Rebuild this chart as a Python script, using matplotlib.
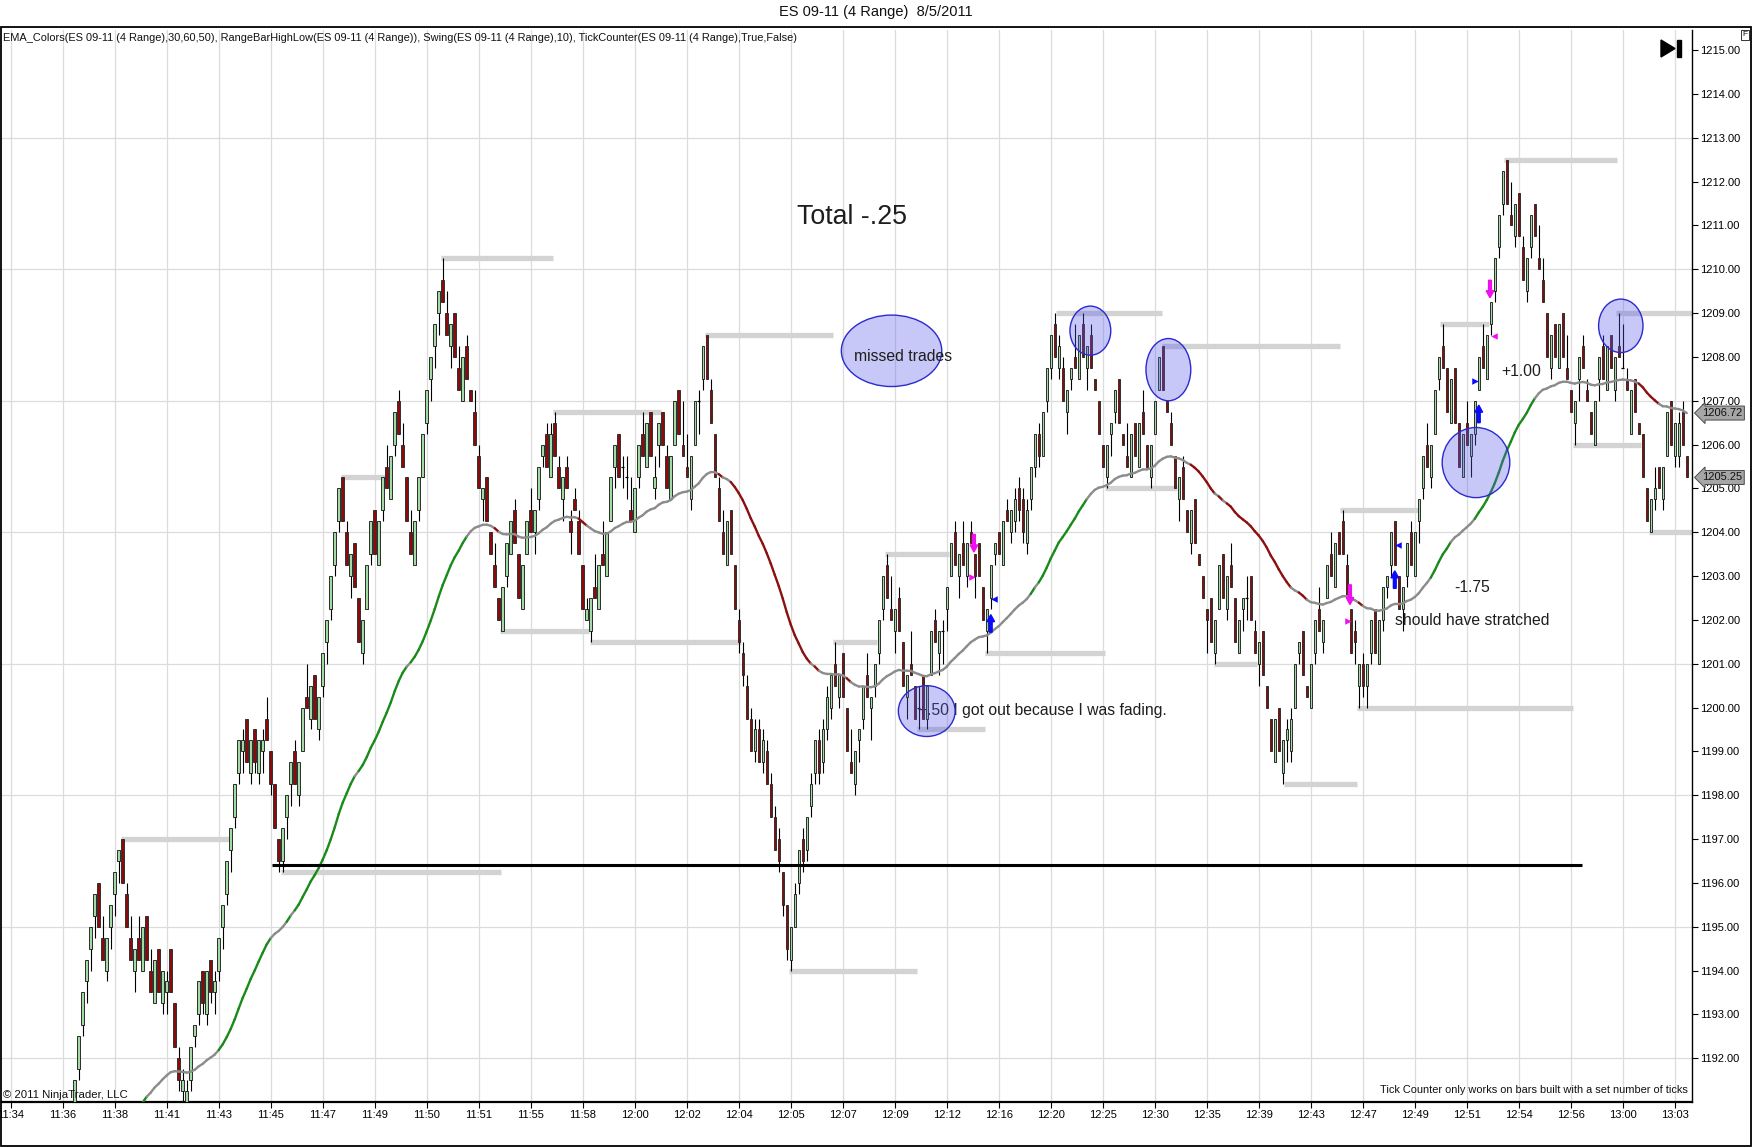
import numpy as np
import matplotlib
matplotlib.use('Agg')
import matplotlib.pyplot as plt
from matplotlib.patches import Ellipse, Rectangle, Polygon, FancyArrow
from matplotlib.collections import LineCollection
import matplotlib.transforms as mtransforms

plt.rcParams['font.family'] = ['Liberation Sans', 'DejaVu Sans']

# ---------------- data (4-tick range bars, ES 09-11, 8/5/2011) ----------------
first_bar = 16
opens = [
    1191.0, 1191.75, 1192.75, 1193.75, 1194.5, 1195.25, 1196.0, 1194.75, 1194.0, 1195.0,
    1195.75, 1196.5, 1197.0, 1195.75, 1194.75, 1194.0, 1194.75, 1194.0, 1195.25, 1194.0,
    1193.25, 1194.5, 1193.25, 1193.5, 1194.5, 1193.25, 1192.0, 1191.25, 1191.0, 1191.5,
    1192.5, 1193.0, 1194.0, 1193.0, 1194.25, 1193.5, 1194.0, 1195.0, 1195.75, 1196.75,
    1197.5, 1198.5, 1199.0, 1199.75, 1198.5, 1199.5, 1198.5, 1199.0, 1199.75, 1199.0,
    1198.25, 1197.0, 1196.5, 1197.5, 1198.25, 1199.0, 1198.0, 1199.0, 1200.25, 1199.75,
    1200.75, 1199.5, 1200.5, 1201.5, 1202.25, 1203.25, 1204.25, 1205.25, 1204.0, 1203.0,
    1203.75, 1202.5, 1201.25, 1202.25, 1203.5, 1204.5, 1203.25, 1204.5, 1205.5, 1204.75,
    1206.0, 1207.0, 1206.0, 1205.25, 1204.0, 1203.25, 1204.5, 1205.25, 1206.5, 1207.5,
    1208.25, 1209.0, 1209.75, 1209.0, 1208.25, 1209.0, 1207.75, 1207.0, 1208.25, 1207.25,
    1206.75, 1205.75, 1204.75, 1205.25, 1204.0, 1203.25, 1202.5, 1201.75, 1203.0, 1203.5,
    1204.5, 1203.5, 1202.25, 1203.5, 1204.5, 1204.0, 1204.75, 1205.75, 1206.25, 1205.25,
    1206.5, 1205.5, 1204.75, 1205.5, 1204.25, 1204.75, 1204.25, 1203.25, 1202.0, 1201.75,
    1202.75, 1202.25, 1203.5, 1203.0, 1204.25, 1205.5, 1206.25, 1205.5, 1205.25, 1204.5,
    1204.0, 1205.25, 1206.25, 1205.5, 1206.75, 1205.0, 1206.0, 1206.75, 1205.75, 1204.75,
    1206.0, 1207.25, 1206.0, 1205.5, 1204.75, 1206.0, 1207.0, 1207.5, 1208.5, 1207.25,
    1206.25, 1205.0, 1204.0, 1203.25, 1204.5, 1203.25, 1202.0, 1201.25, 1200.5, 1199.75,
    1199.0, 1199.5, 1198.75, 1199.0, 1198.25, 1197.5, 1197.0, 1196.25, 1195.5, 1194.25,
    1195.0, 1196.0, 1197.0, 1196.75, 1197.75, 1198.5, 1199.25, 1198.75, 1199.5, 1200.0,
    1201.0, 1200.25, 1201.25, 1200.0, 1198.75, 1198.25, 1199.25, 1199.75, 1200.75, 1200.0,
    1200.5, 1201.25, 1202.25, 1203.25, 1202.25, 1201.75, 1202.5, 1201.5, 1200.25, 1201.0,
    1200.5, 1200.0, 1200.75, 1199.75, 1200.75, 1202.0, 1201.25, 1201.75, 1202.25, 1203.0,
    1204.0, 1203.0, 1203.75, 1203.0, 1204.0, 1203.5, 1203.75, 1202.75, 1201.75, 1202.5,
    1203.5, 1204.0, 1203.25, 1204.5, 1204.0, 1204.25, 1205.0, 1204.75, 1203.75, 1204.75,
    1205.5, 1206.25, 1205.75, 1207.0, 1207.75, 1208.75, 1207.75, 1207.75, 1206.75, 1207.5,
    1208.0, 1207.5, 1208.75, 1207.75, 1208.5, 1207.5, 1207.0, 1206.0, 1205.25, 1206.25,
    1206.75, 1207.5, 1206.25, 1205.75, 1205.25, 1206.5, 1205.5, 1206.75, 1206.0, 1205.25,
    1206.25, 1207.25, 1208.25, 1207.0, 1206.5, 1205.75, 1204.75, 1205.5, 1204.5, 1203.75,
    1204.75, 1203.5, 1203.0, 1202.25, 1202.5, 1201.25, 1202.25, 1203.5, 1202.25, 1203.25,
    1202.5, 1201.25, 1202.25, 1202.5, 1203.0, 1201.75, 1201.0, 1201.75, 1200.5, 1199.75,
    1198.75, 1200.0, 1198.5, 1199.25, 1199.0, 1200.0, 1201.25, 1201.75, 1200.5, 1200.0,
    1201.25, 1202.25, 1201.5, 1202.5, 1203.5, 1202.75, 1204.0, 1204.25, 1203.25, 1202.25,
    1201.75, 1200.5, 1201.0, 1200.5, 1201.25, 1202.25, 1201.0, 1202.0, 1202.75, 1203.25,
    1204.25, 1203.0, 1202.25, 1203.0, 1204.0, 1203.0, 1204.25, 1205.0, 1206.0, 1205.25,
    1206.25, 1207.5, 1208.25, 1207.75, 1206.5, 1207.75, 1206.5, 1205.25, 1206.5, 1205.75,
    1206.25, 1207.25, 1208.25, 1207.5, 1208.75, 1209.5, 1210.5, 1211.5, 1212.5, 1211.25,
    1210.75, 1211.75, 1210.5, 1209.5, 1210.5, 1211.5, 1210.25, 1209.75, 1209.0, 1207.75,
    1208.75, 1207.75, 1209.0, 1207.75, 1207.25, 1206.5, 1207.5, 1208.25, 1207.25, 1206.75,
    1206.0, 1207.5, 1208.25, 1207.25, 1208.5, 1207.25, 1208.25, 1207.75, 1207.5, 1206.25,
    1207.5, 1206.5, 1206.25, 1205.0, 1204.0, 1204.75, 1205.5, 1204.75, 1205.75, 1207.0,
    1205.75, 1205.75, 1206.75, 1205.75,
]
highs = [
    1191.5, 1192.5, 1193.5, 1194.25, 1195.0, 1195.75, 1196.0, 1195.25, 1194.75, 1195.5,
    1196.25, 1196.75, 1197.0, 1196.0, 1195.25, 1194.5, 1195.25, 1195.0, 1195.25, 1194.5,
    1194.25, 1194.5, 1194.0, 1194.0, 1194.5, 1193.25, 1192.25, 1191.75, 1191.5, 1192.25,
    1192.75, 1193.75, 1194.0, 1194.0, 1194.25, 1194.0, 1194.75, 1195.5, 1196.5, 1197.25,
    1198.25, 1199.25, 1199.5, 1199.75, 1199.25, 1199.5, 1199.25, 1199.5, 1200.25, 1199.0,
    1198.25, 1197.0, 1197.25, 1198.0, 1198.75, 1199.25, 1198.75, 1200.0, 1201.0, 1200.5,
    1200.75, 1200.25, 1201.25, 1202.0, 1203.0, 1204.0, 1205.0, 1205.25, 1204.25, 1203.5,
    1203.75, 1202.5, 1202.0, 1203.25, 1204.25, 1204.5, 1204.25, 1205.25, 1206.0, 1205.75,
    1206.75, 1207.25, 1206.5, 1205.25, 1204.5, 1204.25, 1205.25, 1206.25, 1207.25, 1208.0,
    1208.75, 1209.5, 1210.25, 1209.5, 1208.75, 1209.0, 1208.25, 1208.0, 1208.5, 1207.25,
    1207.25, 1206.0, 1205.0, 1205.25, 1204.0, 1203.75, 1202.5, 1202.75, 1203.75, 1204.25,
    1204.75, 1203.5, 1203.25, 1204.25, 1205.0, 1204.5, 1205.5, 1206.0, 1206.5, 1206.5,
    1206.75, 1205.75, 1205.25, 1205.75, 1204.5, 1205.0, 1204.5, 1203.25, 1202.5, 1202.5,
    1203.5, 1203.25, 1204.25, 1204.0, 1205.25, 1206.0, 1206.25, 1205.75, 1205.75, 1205.25,
    1205.0, 1206.0, 1206.75, 1206.5, 1206.75, 1205.75, 1206.5, 1206.75, 1206.0, 1205.75,
    1207.0, 1207.25, 1207.0, 1206.25, 1205.75, 1207.0, 1207.25, 1208.25, 1208.5, 1207.5,
    1206.25, 1205.25, 1204.5, 1204.25, 1204.5, 1203.25, 1202.25, 1201.5, 1200.75, 1200.0,
    1199.75, 1199.75, 1199.5, 1199.25, 1198.5, 1197.75, 1197.25, 1196.25, 1195.5, 1195.0,
    1196.0, 1196.75, 1197.25, 1197.5, 1198.5, 1199.25, 1199.5, 1199.75, 1200.5, 1200.75,
    1201.5, 1200.75, 1201.25, 1200.0, 1199.5, 1199.0, 1199.5, 1200.5, 1201.25, 1200.25,
    1201.0, 1202.0, 1203.0, 1203.5, 1203.0, 1202.25, 1202.75, 1201.5, 1200.75, 1201.75,
    1200.5, 1200.5, 1200.75, 1200.5, 1201.75, 1202.25, 1201.75, 1202.0, 1202.75, 1203.75,
    1204.25, 1203.5, 1204.25, 1203.75, 1204.25, 1203.5, 1203.75, 1202.75, 1202.25, 1203.25,
    1203.75, 1204.0, 1204.25, 1204.75, 1204.5, 1205.0, 1205.25, 1205.0, 1204.75, 1205.5,
    1206.25, 1206.5, 1206.75, 1207.75, 1208.5, 1209.0, 1208.5, 1208.0, 1207.25, 1207.75,
    1208.75, 1208.5, 1209.0, 1208.25, 1208.75, 1207.5, 1207.0, 1206.0, 1206.0, 1206.5,
    1207.25, 1207.5, 1206.25, 1206.5, 1206.25, 1206.5, 1206.5, 1207.25, 1206.0, 1206.0,
    1207.0, 1208.0, 1208.25, 1207.0, 1206.75, 1205.75, 1205.25, 1205.75, 1204.5, 1204.5,
    1204.75, 1203.5, 1203.0, 1202.25, 1202.5, 1202.0, 1203.25, 1203.5, 1203.0, 1203.75,
    1202.5, 1202.0, 1202.5, 1203.0, 1203.0, 1202.0, 1201.5, 1201.75, 1200.5, 1199.75,
    1199.75, 1200.0, 1199.25, 1199.75, 1200.0, 1201.0, 1201.5, 1201.75, 1200.5, 1201.0,
    1202.0, 1202.75, 1202.0, 1203.25, 1204.0, 1203.75, 1204.0, 1204.5, 1203.5, 1202.25,
    1202.0, 1201.0, 1201.25, 1201.0, 1202.0, 1202.25, 1202.0, 1202.75, 1203.0, 1204.0,
    1204.25, 1203.0, 1202.75, 1203.75, 1204.25, 1204.0, 1204.75, 1205.75, 1206.5, 1206.0,
    1207.25, 1208.0, 1208.75, 1207.75, 1207.5, 1207.75, 1206.5, 1206.25, 1207.0, 1206.25,
    1207.0, 1208.0, 1208.75, 1208.5, 1209.25, 1210.25, 1211.25, 1212.25, 1212.5, 1212.0,
    1211.5, 1211.75, 1210.75, 1210.25, 1211.25, 1211.5, 1211.0, 1210.25, 1209.0, 1208.5,
    1208.75, 1208.75, 1209.0, 1208.5, 1207.25, 1207.0, 1208.0, 1208.5, 1207.5, 1206.75,
    1207.0, 1208.0, 1208.5, 1208.25, 1208.5, 1208.0, 1209.0, 1208.75, 1207.75, 1207.25,
    1207.5, 1206.5, 1206.25, 1205.0, 1204.75, 1205.5, 1205.5, 1205.5, 1206.75, 1207.0,
    1206.5, 1206.75, 1207.0, 1205.75,
]
lows = [
    1190.5, 1191.5, 1192.5, 1193.25, 1194.0, 1194.75, 1195.0, 1194.25, 1193.75, 1194.5,
    1195.25, 1196.0, 1196.0, 1195.0, 1194.25, 1193.5, 1194.25, 1194.0, 1194.25, 1193.5,
    1193.25, 1193.5, 1193.0, 1193.0, 1193.5, 1192.25, 1191.25, 1190.75, 1190.5, 1191.25,
    1192.25, 1192.75, 1193.0, 1192.75, 1193.25, 1193.0, 1193.75, 1194.5, 1195.5, 1196.25,
    1197.25, 1198.25, 1198.5, 1198.75, 1198.25, 1198.5, 1198.25, 1198.5, 1199.25, 1198.0,
    1197.25, 1196.25, 1196.25, 1197.0, 1197.75, 1198.25, 1197.75, 1199.0, 1200.0, 1199.5,
    1199.75, 1199.25, 1200.25, 1201.0, 1202.0, 1203.0, 1204.0, 1204.25, 1203.25, 1202.5,
    1202.75, 1201.5, 1201.0, 1202.25, 1203.25, 1203.5, 1203.25, 1204.25, 1205.0, 1204.75,
    1205.75, 1206.25, 1205.5, 1204.25, 1203.5, 1203.25, 1204.25, 1205.25, 1206.25, 1207.0,
    1207.75, 1208.5, 1209.25, 1208.5, 1207.75, 1208.0, 1207.25, 1207.0, 1207.5, 1207.0,
    1206.0, 1205.0, 1204.25, 1204.25, 1203.5, 1202.75, 1202.0, 1201.75, 1202.75, 1203.5,
    1203.75, 1202.5, 1202.25, 1203.5, 1204.0, 1203.5, 1204.5, 1205.5, 1205.5, 1205.25,
    1205.75, 1205.0, 1204.25, 1205.0, 1203.5, 1204.5, 1203.5, 1202.25, 1202.0, 1201.5,
    1202.5, 1202.25, 1203.25, 1203.0, 1204.25, 1205.0, 1205.25, 1205.0, 1204.75, 1204.25,
    1204.0, 1205.0, 1205.75, 1205.5, 1205.75, 1204.75, 1205.5, 1206.0, 1205.0, 1204.75,
    1206.0, 1206.25, 1205.75, 1205.25, 1204.5, 1206.0, 1206.25, 1207.25, 1207.5, 1206.5,
    1205.25, 1204.25, 1203.5, 1203.25, 1203.5, 1202.25, 1201.25, 1200.5, 1199.75, 1199.0,
    1198.75, 1198.75, 1198.5, 1198.25, 1197.5, 1196.75, 1196.25, 1195.25, 1194.25, 1194.0,
    1195.0, 1195.75, 1196.25, 1196.5, 1197.5, 1198.25, 1198.25, 1198.5, 1199.25, 1199.75,
    1200.5, 1200.0, 1200.25, 1199.0, 1198.5, 1198.0, 1198.75, 1199.5, 1200.25, 1199.25,
    1200.25, 1201.0, 1202.0, 1202.5, 1202.0, 1201.25, 1201.75, 1200.5, 1199.75, 1200.75,
    1199.75, 1199.5, 1199.75, 1199.5, 1200.75, 1201.5, 1200.75, 1201.0, 1201.75, 1203.0,
    1203.25, 1202.5, 1203.25, 1202.75, 1203.75, 1202.5, 1203.0, 1202.0, 1201.25, 1202.25,
    1203.25, 1203.5, 1203.25, 1204.25, 1203.75, 1204.0, 1204.25, 1203.75, 1203.5, 1204.5,
    1205.25, 1205.5, 1205.75, 1206.75, 1207.5, 1208.0, 1207.5, 1207.0, 1206.25, 1207.25,
    1207.75, 1207.5, 1208.0, 1207.25, 1207.75, 1207.25, 1206.25, 1205.5, 1205.0, 1205.75,
    1206.5, 1206.5, 1206.0, 1205.5, 1205.25, 1205.75, 1205.5, 1206.25, 1205.5, 1205.0,
    1206.25, 1207.25, 1207.25, 1206.75, 1206.0, 1205.0, 1204.25, 1204.75, 1204.0, 1203.5,
    1203.75, 1203.25, 1202.5, 1201.25, 1201.5, 1201.0, 1202.25, 1202.5, 1202.0, 1202.75,
    1201.5, 1201.25, 1201.75, 1202.0, 1202.0, 1201.25, 1200.5, 1200.75, 1200.0, 1199.0,
    1198.75, 1199.0, 1198.25, 1198.75, 1198.75, 1200.0, 1201.0, 1200.75, 1200.25, 1200.0,
    1201.0, 1201.75, 1201.25, 1202.5, 1203.0, 1202.75, 1203.5, 1203.5, 1202.5, 1201.25,
    1201.0, 1200.0, 1200.25, 1200.0, 1201.0, 1201.25, 1201.0, 1201.75, 1202.5, 1203.0,
    1203.25, 1202.25, 1201.75, 1202.75, 1203.25, 1203.0, 1203.75, 1204.75, 1205.5, 1205.0,
    1206.25, 1207.25, 1207.75, 1206.75, 1206.5, 1206.5, 1205.5, 1205.25, 1206.0, 1205.25,
    1206.0, 1207.25, 1207.75, 1207.5, 1208.5, 1209.25, 1210.25, 1211.25, 1211.5, 1211.0,
    1210.5, 1210.75, 1209.75, 1209.25, 1210.25, 1210.75, 1210.0, 1209.25, 1208.0, 1207.5,
    1208.0, 1207.75, 1208.0, 1207.5, 1206.75, 1206.0, 1207.0, 1207.75, 1207.0, 1206.25,
    1206.0, 1207.0, 1207.5, 1207.25, 1207.75, 1207.0, 1208.0, 1207.75, 1207.25, 1206.25,
    1206.75, 1206.25, 1205.25, 1204.25, 1204.0, 1204.5, 1205.0, 1204.5, 1205.75, 1206.0,
    1205.5, 1205.5, 1206.0, 1205.25,
]
closes = [
    1191.5, 1192.5, 1193.5, 1194.25, 1195.0, 1195.75, 1195.0, 1194.25, 1194.75, 1195.5,
    1196.25, 1196.75, 1196.0, 1195.0, 1194.25, 1194.5, 1194.25, 1195.0, 1194.25, 1193.5,
    1194.25, 1193.5, 1194.0, 1193.75, 1193.5, 1192.25, 1191.5, 1191.5, 1191.25, 1192.25,
    1192.75, 1193.75, 1193.25, 1194.0, 1193.5, 1193.75, 1194.75, 1195.5, 1196.5, 1197.25,
    1198.25, 1199.25, 1199.25, 1198.75, 1199.25, 1198.75, 1199.25, 1199.25, 1199.25, 1198.25,
    1197.25, 1196.5, 1197.25, 1198.0, 1198.75, 1198.25, 1198.75, 1200.0, 1200.0, 1200.5,
    1199.75, 1200.25, 1201.25, 1202.0, 1203.0, 1204.0, 1205.0, 1204.25, 1203.25, 1203.5,
    1202.75, 1201.5, 1202.0, 1203.25, 1204.25, 1203.5, 1204.25, 1205.25, 1205.0, 1205.75,
    1206.75, 1206.25, 1205.5, 1204.25, 1203.5, 1204.25, 1205.25, 1206.25, 1207.25, 1208.0,
    1208.75, 1209.5, 1209.25, 1208.5, 1208.75, 1208.0, 1207.25, 1208.0, 1207.5, 1207.0,
    1206.0, 1205.0, 1205.0, 1204.25, 1203.5, 1202.75, 1202.0, 1202.75, 1203.75, 1204.25,
    1203.75, 1202.5, 1203.25, 1204.25, 1204.0, 1204.5, 1205.5, 1206.0, 1205.5, 1206.25,
    1205.75, 1205.0, 1205.25, 1205.0, 1204.0, 1204.5, 1203.5, 1202.25, 1202.25, 1202.5,
    1202.5, 1203.25, 1203.25, 1204.0, 1205.25, 1206.0, 1205.25, 1205.5, 1205.25, 1204.25,
    1205.0, 1206.0, 1205.75, 1206.5, 1205.75, 1205.25, 1206.5, 1206.0, 1205.0, 1205.75,
    1207.0, 1206.25, 1205.75, 1205.25, 1205.75, 1207.0, 1207.0, 1208.25, 1207.5, 1206.5,
    1205.25, 1204.25, 1203.5, 1204.25, 1203.5, 1202.25, 1201.5, 1200.75, 1199.75, 1199.0,
    1199.5, 1198.75, 1199.25, 1198.25, 1197.5, 1196.75, 1196.5, 1195.5, 1194.5, 1195.0,
    1195.75, 1196.75, 1196.5, 1197.5, 1198.25, 1199.25, 1198.5, 1199.5, 1200.25, 1200.75,
    1200.5, 1200.75, 1200.25, 1199.0, 1198.5, 1199.0, 1199.5, 1200.5, 1200.25, 1200.25,
    1201.0, 1202.0, 1203.0, 1202.5, 1202.0, 1202.25, 1201.75, 1200.5, 1200.75, 1200.75,
    1199.75, 1200.0, 1199.75, 1200.5, 1201.75, 1201.5, 1201.75, 1201.75, 1202.75, 1203.75,
    1203.25, 1203.5, 1203.25, 1203.75, 1203.75, 1203.0, 1203.0, 1202.0, 1202.25, 1203.25,
    1203.75, 1203.5, 1204.25, 1204.25, 1204.5, 1204.75, 1204.5, 1204.0, 1204.5, 1205.5,
    1206.25, 1205.75, 1206.75, 1207.75, 1208.5, 1208.0, 1208.25, 1207.0, 1207.25, 1207.75,
    1207.75, 1208.5, 1208.0, 1208.25, 1207.75, 1207.25, 1206.25, 1205.5, 1206.0, 1206.5,
    1207.25, 1206.5, 1206.0, 1205.5, 1206.25, 1205.75, 1206.5, 1206.25, 1205.5, 1206.0,
    1207.0, 1208.0, 1207.25, 1206.75, 1206.0, 1205.0, 1205.25, 1204.75, 1204.0, 1204.5,
    1203.75, 1203.25, 1202.5, 1202.0, 1201.5, 1202.0, 1203.25, 1202.5, 1203.0, 1202.75,
    1201.5, 1202.0, 1202.5, 1202.5, 1202.0, 1201.25, 1201.5, 1200.75, 1200.0, 1199.0,
    1199.75, 1199.0, 1199.25, 1199.5, 1199.75, 1201.0, 1201.5, 1200.75, 1200.25, 1201.0,
    1202.0, 1201.75, 1202.0, 1203.25, 1203.0, 1203.75, 1203.5, 1203.5, 1202.5, 1201.25,
    1201.5, 1201.0, 1200.5, 1201.0, 1202.0, 1201.25, 1202.0, 1202.75, 1203.0, 1204.0,
    1203.25, 1202.25, 1202.75, 1203.75, 1203.25, 1204.0, 1204.75, 1205.75, 1205.5, 1206.0,
    1207.25, 1208.0, 1207.75, 1206.75, 1207.5, 1206.5, 1205.5, 1206.25, 1206.0, 1206.25,
    1207.0, 1208.0, 1207.75, 1208.5, 1209.25, 1210.25, 1211.25, 1212.25, 1211.5, 1211.0,
    1211.5, 1210.75, 1209.75, 1210.25, 1211.25, 1210.75, 1210.0, 1209.25, 1208.0, 1208.5,
    1208.0, 1208.75, 1208.0, 1207.5, 1206.75, 1207.0, 1208.0, 1207.75, 1207.0, 1206.25,
    1207.0, 1208.0, 1207.5, 1208.25, 1207.75, 1208.0, 1208.0, 1207.75, 1207.25, 1207.25,
    1206.75, 1206.25, 1205.25, 1204.25, 1204.75, 1205.0, 1205.0, 1205.5, 1206.75, 1206.0,
    1206.5, 1206.5, 1206.0, 1205.25,
]

time_labels = ['11:34', '11:36', '11:38', '11:41', '11:43', '11:45', '11:47', '11:49',
               '11:50', '11:51', '11:55', '11:58', '12:00', '12:02', '12:04', '12:05',
               '12:07', '12:09', '12:12', '12:16', '12:20', '12:25', '12:30', '12:35',
               '12:39', '12:43', '12:47', '12:49', '12:51', '12:54', '12:56', '13:00', '13:03']
bars_per_label = 13

ema_period = 50
ema_seed = 1187.0

# swing high/low segments: start bar, end bar, price
swing_start = [27.5, 67.5, 82.5, 107.5, 122.4, 135.6, 144.7, 173.6, 194.5, 205.5, 218.5, 226.5,
               243.5, 261.2, 273.6, 287.7, 300.8, 318.4, 332.3, 336.6, 357.4, 373.3, 390.5, 401.3, 409.5]
swing_end = [54.6, 122.5, 93.7, 135.6, 144.6, 162.5, 182.5, 205.6, 226.5, 216.5, 234.5, 243.5,
             273.6, 287.7, 291.6, 332.4, 311.5, 336.6, 351.8, 390.6, 369.6, 401.6, 407.6, 420.3, 420.3]
swing_price = [1197.0, 1196.25, 1205.25, 1210.25, 1201.75, 1206.75, 1201.5, 1208.5, 1194.0, 1201.5,
               1203.5, 1199.5, 1201.25, 1209.0, 1205.0, 1208.25, 1201.0, 1198.25, 1204.5, 1200.0,
               1208.75, 1212.5, 1206.0, 1209.0, 1204.0]

level_price = 1196.4
level_start, level_end = 65.3, 392.8

# trade circles: center bar, center price, width (bars), height (points)
circle_bar = [220.2, 269.9, 289.4, 229.0, 366.3, 402.5]
circle_price = [1208.14, 1208.60, 1207.71, 1199.92, 1205.59, 1208.71]
circle_w = [25.1, 10.2, 11.2, 14.2, 16.9, 11.1]
circle_h = [1.63, 1.12, 1.42, 1.16, 1.60, 1.22]

# trade markers
sell_arrow_bar = [240.8, 334.8, 369.8]
sell_arrow_top = [1203.95, 1202.8, 1209.75]
sell_arrow_tip = [1203.55, 1202.35, 1209.35]
buy_arrow_bar = [245.0, 346.0, 367.0]
buy_arrow_bottom = [1201.72, 1202.72, 1206.5]
buy_arrow_tip = [1202.12, 1203.12, 1206.9]
magenta_right_bar = [240.2, 334.2]
magenta_right_price = [1202.97, 1201.98]
magenta_left_bar = [370.7]
magenta_left_price = [1208.47]
blue_left_bar = [245.7, 346.7]
blue_left_price = [1202.48, 1203.71]
blue_right_bar = [366.0]
blue_right_price = [1207.46]

ema_flag = 1206.72
last_flag = 1205.25

# ---------------- figure ----------------
W, H = 1752, 1147
fig = plt.figure(figsize=(W / 100, H / 100), dpi=100)
fig.patch.set_facecolor('white')


def fx(px):
    return px / W


def fy(py):
    return 1 - py / H


ax = fig.add_axes([fx(2), fy(1102), fx(1692) - fx(2), fy(30) - fy(1102)])
ax.set_facecolor('white')
ax.set_xlim(-2.175, 420.3)
ax.set_ylim(1191.0, 1215.46)

o = np.array(opens)
h = np.array(highs)
l = np.array(lows)
c = np.array(closes)
n = len(c)
x = np.arange(first_bar, first_bar + n)

# grid
tick_pos = np.arange(len(time_labels)) * bars_per_label
for t in tick_pos:
    ax.axvline(t, color='#dcdcdc', lw=0.9, zorder=0)
for gp in np.arange(1192, 1214, 3):
    ax.axhline(gp, color='#dcdcdc', lw=0.9, zorder=0)

# swing lines
for s, e, p in zip(swing_start, swing_end, swing_price):
    ax.plot([s, e], [p, p], color='#d3d3d3', lw=3.8, solid_capstyle='butt', zorder=1)

# candles
up = c > o
dn = c < o
dj = c == o
ax.vlines(x, l, h, color='black', lw=0.8, zorder=3)
ax.bar(x[up], (c - o)[up], bottom=o[up], width=0.62, color='#a3d9a3',
       edgecolor='#111111', linewidth=0.6, zorder=4)
ax.bar(x[dn], (o - c)[dn], bottom=c[dn], width=0.62, color='#8b0a0a',
       edgecolor='#222222', linewidth=0.6, zorder=4)
ax.hlines(o[dj], x[dj] - 0.35, x[dj] + 0.35, color='black', lw=0.9, zorder=4)

# EMA with slope colours
a = 2.0 / (ema_period + 1)
ema = np.empty(n)
prev = ema_seed
for k in range(n):
    prev = prev + a * (c[k] - prev)
    ema[k] = prev
d = np.diff(ema)
seg_colors = np.where(d > 0.125, '#1a8a1a', np.where(d < -0.07, '#8b1010', '#8c8c8c'))
segs = [[(x[k], ema[k]), (x[k + 1], ema[k + 1])] for k in range(n - 1)]
ax.add_collection(LineCollection(segs, colors=seg_colors, linewidths=1.7, zorder=5,
                                 capstyle='round'))

# black level line
ax.plot([level_start, level_end], [level_price, level_price], color='black', lw=2.2,
        solid_capstyle='butt', zorder=6)

# circles
for cb, cp, cw, ch in zip(circle_bar, circle_price, circle_w, circle_h):
    ax.add_patch(Ellipse((cb, cp), cw, ch, facecolor=(0.35, 0.35, 0.92, 0.33),
                         edgecolor='#2a2ad0', lw=1.0, zorder=8))

# trade markers
magenta = '#ee10ee'
blue = '#0a0aff'
for bx, y0, y1 in zip(sell_arrow_bar, sell_arrow_top, sell_arrow_tip):
    ax.add_patch(FancyArrow(bx, y0, 0, y1 - y0, width=0.7, head_width=1.9, head_length=0.16,
                            length_includes_head=True, color=magenta, zorder=7))
for bx, y0, y1 in zip(buy_arrow_bar, buy_arrow_bottom, buy_arrow_tip):
    ax.add_patch(FancyArrow(bx, y0, 0, y1 - y0, width=0.7, head_width=1.9, head_length=0.16,
                            length_includes_head=True, color=blue, zorder=7))
ax.scatter(magenta_right_bar, magenta_right_price, marker='>', s=22, color=magenta, zorder=7, lw=0)
ax.scatter(magenta_left_bar, magenta_left_price, marker='<', s=22, color=magenta, zorder=7, lw=0)
ax.scatter(blue_left_bar, blue_left_price, marker='<', s=22, color=blue, zorder=7, lw=0)
ax.scatter(blue_right_bar, blue_right_price, marker='>', s=22, color=blue, zorder=7, lw=0)

# annotations
txt = '#1e1e1e'
ax.text(210.3, 1211.19, 'Total -.25', fontsize=19.3, ha='center', va='center', color=txt, zorder=9)
ax.text(223.1, 1208.02, 'missed trades', fontsize=11.3, ha='center', va='center', color=txt, zorder=9)
ax.text(377.6, 1207.66, '+1.00', fontsize=11.3, ha='center', va='center', color=txt, zorder=9)
ax.text(365.3, 1202.73, '-1.75', fontsize=11.3, ha='center', va='center', color=txt, zorder=9)
ax.text(365.3, 1201.98, 'should have stratched', fontsize=11.3, ha='center', va='center',
        color=txt, zorder=9)
ax.text(226.8, 1199.93, '+.50 I got out because I was fading.', fontsize=11.3, ha='left',
        va='center', color=txt, zorder=2)

# axes styling
for side in ['left', 'top']:
    ax.spines[side].set_visible(False)
ax.spines['right'].set_color('black')
ax.spines['right'].set_linewidth(1.0)
ax.spines['bottom'].set_color('black')
ax.spines['bottom'].set_linewidth(1.6)

ax.set_xticks(tick_pos)
ax.set_xticklabels(time_labels, fontsize=8)
ax.tick_params(axis='x', direction='out', length=4, width=0.8, pad=2, colors='black')
ax.yaxis.tick_right()
yt = np.arange(1192, 1216, 1)
ax.set_yticks(yt)
ax.set_yticklabels(['%.2f' % v for v in yt], fontsize=8)
ax.tick_params(axis='y', direction='out', length=4, width=0.8, pad=2, colors='black')

# price flags
blend = mtransforms.blended_transform_factory(ax.transAxes, ax.transData)
for val in [ema_flag, last_flag]:
    ax.text(1.006, val, '%.2f' % val, transform=blend, fontsize=8, ha='left', va='center',
            color='#111111', clip_on=False, zorder=10,
            bbox=dict(boxstyle='larrow,pad=0.18', fc='#a6a6a6', ec='#4a4a4a', lw=0.7))

# figure-level texts and decorations
fig.text(fx(876), fy(12), 'ES 09-11 (4 Range)  8/5/2011', fontsize=10.5, ha='center',
         va='center', color='#111111')
fig.text(fx(3), fy(38), 'EMA_Colors(ES 09-11 (4 Range),30,60,50), RangeBarHighLow(ES 09-11 (4 Range)), '
         'Swing(ES 09-11 (4 Range),10), TickCounter(ES 09-11 (4 Range),True,False)',
         fontsize=7.95, ha='left', va='center', color='#111111')
fig.text(fx(3), fy(1095), '\u00a9 2011 NinjaTrader, LLC', fontsize=8.2, ha='left', va='center',
         color='#111111')
fig.text(fx(1688), fy(1090), 'Tick Counter only works on bars built with a set number of ticks',
         fontsize=7.9, ha='right', va='center', color='#111111')
fig.text(fx(1745), fy(35), 'F', fontsize=6, ha='center', va='center', color='#111111',
         bbox=dict(boxstyle='square,pad=0.2', fc='white', ec='#333333', lw=0.7))

fig.patches.append(Polygon([(fx(1661), fy(40)), (fx(1661), fy(57)), (fx(1675), fy(48.5))],
                           closed=True, transform=fig.transFigure, fc='black', ec='black'))
fig.patches.append(Rectangle((fx(1677), fy(57)), fx(4), fy(40) - fy(57),
                             transform=fig.transFigure, fc='black', ec='black'))
fig.patches.append(Rectangle((fx(0.7), fy(1146)), fx(1751) - fx(0.7), fy(26.5) - fy(1146),
                             transform=fig.transFigure, fill=False, ec='black', lw=1.3))

fig.savefig('out.png', dpi=100, facecolor='white')
